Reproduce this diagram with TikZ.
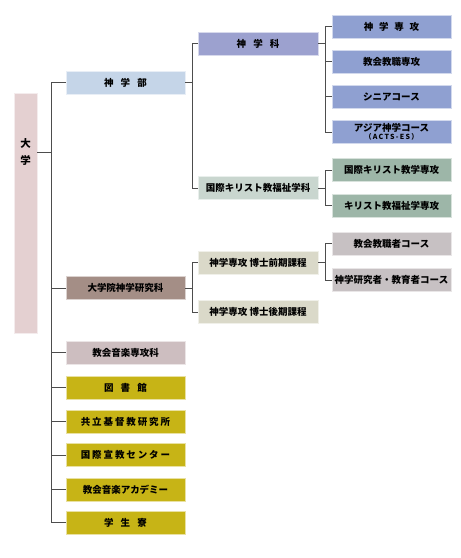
\documentclass[tikz,border=0pt]{standalone}
\usepackage{fontspec}
\setmainfont{Noto Sans CJK JP}
\usetikzlibrary{positioning}
\definecolor{daigakucol}{HTML}{E4D0D1}
\definecolor{bucol}{HTML}{C5D5E8}
\definecolor{kacol}{HTML}{9CA1CF}
\definecolor{senkocol}{HTML}{8FA0D1}
\definecolor{fukushicol}{HTML}{C9D6CF}
\definecolor{fsenkocol}{HTML}{9DB6A8}
\definecolor{inkacol}{HTML}{A48E86}
\definecolor{hakasecol}{HTML}{DAD9C9}
\definecolor{coursecol}{HTML}{C7C1C3}
\definecolor{ongakucol}{HTML}{CDBEC0}
\definecolor{shisetsucol}{HTML}{C7B416}
\definecolor{linecol}{HTML}{4D4D4D}
\newcommand{\wsp}{\hspace{0.75em}}

\begin{document}
\begin{tikzpicture}[x=1pt,y=-1pt,
    box/.style={minimum height=23pt,inner sep=0pt,draw=white!60!#1,line width=0.5pt,fill=#1,
      font=\bfseries\fontsize{9.5}{11}\selectfont},
    lvtwo/.style={box=#1,minimum width=119pt},
    lvthree/.style={box=#1,minimum width=120pt},
    lvfour/.style={box=#1,minimum width=119pt},
    wide/.style={font=\bfseries\fontsize{9.5}{11}\selectfont\addfontfeatures{LetterSpace=20}},
    link/.style={draw=linecol,line width=0.8pt}]
    \useasboundingbox (0,0) rectangle (461,558);

    % university
    \node[box=daigakucol,minimum width=23pt,minimum height=240pt] (daigaku) at (25.5,213) {};
    \node[font=\bfseries\fontsize{10.5}{12}\selectfont,inner sep=0pt] (dgtxt) at (25.5,152)
      {\shortstack{大\\[4pt]学}};

    % faculties and facilities
    \node[lvtwo=bucol] (shingakubu) at (125.5,82.5) {神\wsp{}学\wsp{}部};
    \node[lvtwo=inkacol] (daigakuin) at (125.5,288) {大学院神学研究科};
    \node[lvtwo=ongakucol] (ongaku) at (125.5,352.5) {教会音楽専攻科};
    \node[lvtwo=shisetsucol] (tosho) at (125.5,387.5) {図\wsp{}書\wsp{}館};
    \node[lvtwo=shisetsucol,wide] (kenkyujo) at (125.5,421.5) {共立基督教研究所};
    \node[lvtwo=shisetsucol,wide] (senkyo) at (125.5,455) {国際宣教センター};
    \node[lvtwo=shisetsucol] (academy) at (125.5,489.5) {教会音楽アカデミー};
    \node[lvtwo=shisetsucol] (ryo) at (125.5,522.5) {学\wsp{}生\wsp{}寮};

    % departments
    \node[lvthree=kacol] (shingakuka) at (258,43.5) {神\wsp{}学\wsp{}科};
    \node[lvthree=fukushicol] (kokusai) at (258,188) {国際キリスト教福祉学科};
    \node[lvthree=hakasecol] (zenki) at (258,262.5) {神学専攻 博士前期課程};
    \node[lvthree=hakasecol] (koki) at (258,312) {神学専攻 博士後期課程};

    % majors and courses
    \node[lvfour=senkocol] (shingakusenko) at (391.5,26.5) {神\hspace{0.6em}学\hspace{0.6em}専\hspace{0.6em}攻};
    \node[lvfour=senkocol] (kyoshoku) at (391.5,61.5) {教会教職専攻};
    \node[lvfour=senkocol] (senior) at (391.5,96.5) {シニアコース};
    \node[lvfour=senkocol,align=center] (asia) at (391.5,132)
      {アジア神学コース\\[-3pt]{\fontsize{7}{7.5}\selectfont\addfontfeatures{LetterSpace=18}（ACTS-ES）}};
    \node[lvfour=fsenkocol] (kyogaku) at (391.5,170) {国際キリスト教学専攻};
    \node[lvfour=fsenkocol] (fukushi) at (391.5,205.5) {キリスト教福祉学専攻};
    \node[lvfour=coursecol] (kyoshokusha) at (391.5,243.5) {教会教職者コース};
    \node[lvfour=coursecol] (kenkyusha) at (391.5,280) {神学研究者・教育者コース};

    % connectors
    \coordinate (trunk) at (51,152);
    \draw[link] (daigaku.east |- dgtxt) -- (trunk);
    \foreach \n in {shingakubu,daigakuin,ongaku,tosho,kenkyujo,senkyo,academy,ryo}
      \draw[link] (trunk) |- (\n.west);

    \draw[link] (shingakubu.east) -- ++(7,0) coordinate (fbu);
    \foreach \n in {shingakuka,kokusai} \draw[link] (fbu) |- (\n.west);

    \draw[link] (shingakuka.east) -- ++(7,0) coordinate (fka);
    \foreach \n in {shingakusenko,kyoshoku,senior,asia} \draw[link] (fka) |- (\n.west);

    \draw[link] (kokusai.east) -- ++(7,0) coordinate (fkok);
    \foreach \n in {kyogaku,fukushi} \draw[link] (fkok) |- (\n.west);

    \draw[link] (daigakuin.east) -- ++(7,0) coordinate (fin);
    \foreach \n in {zenki,koki} \draw[link] (fin) |- (\n.west);

    \draw[link] (zenki.east) -- ++(7,0) coordinate (fzen);
    \foreach \n in {kyoshokusha,kenkyusha} \draw[link] (fzen) |- (\n.west);
\end{tikzpicture}
\end{document}
